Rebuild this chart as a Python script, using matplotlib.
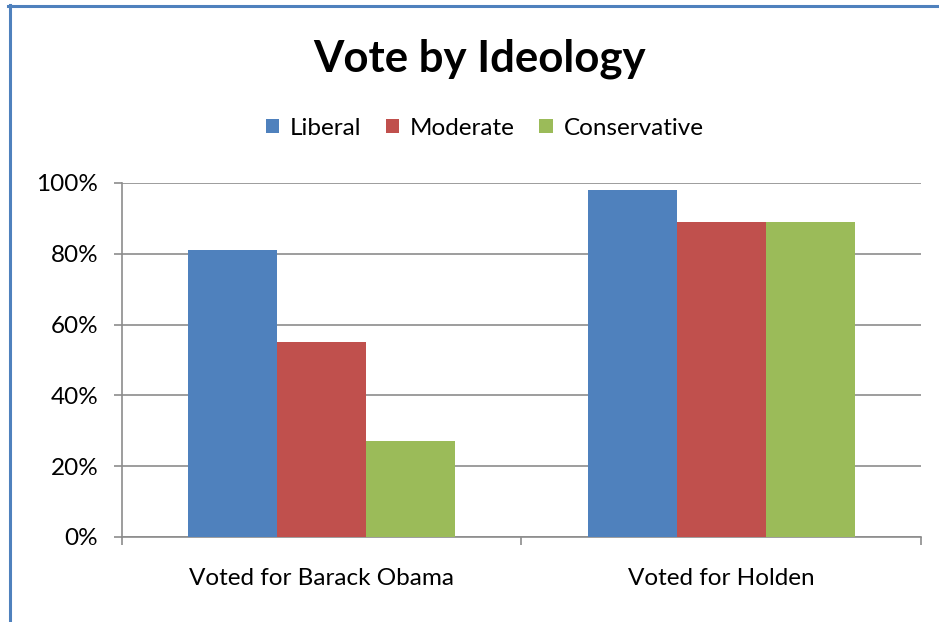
import matplotlib
matplotlib.use("Agg")
import matplotlib.pyplot as plt
from matplotlib.lines import Line2D
import numpy as np

plt.rcParams['font.family'] = ['Lato', 'DejaVu Sans']

categories = ['Voted for Barack Obama', 'Voted for Holden']
series = ['Liberal', 'Moderate', 'Conservative']
liberal = [0.81, 0.98]
moderate = [0.55, 0.89]
conservative = [0.27, 0.89]
colors = ['#4F81BD', '#C0504D', '#9BBB59']
yticks = [0, 0.2, 0.4, 0.6, 0.8, 1.0]
ytick_labels = ['0%', '20%', '40%', '60%', '80%', '100%']

fig = plt.figure(figsize=(9.39, 6.22), dpi=100)
ax = fig.add_axes([0.1299, 0.1367, 0.8509, 0.5691])

x = np.arange(len(categories))
w = 0.223
for i, (vals, name) in enumerate(zip([liberal, moderate, conservative], series)):
    ax.bar(x + (i - 1) * w, vals, w, color=colors[i], label=name, zorder=3)

ax.set_xlim(-0.5, 1.5)
ax.set_ylim(0, 1.0)
ax.set_yticks(yticks)
ax.set_yticklabels(ytick_labels, fontsize=17.5)
ax.yaxis.grid(True, color='#8c8c8c', linewidth=1.2, zorder=0)

# category boundary ticks, labels in between
ax.set_xticks([-0.5, 0.5, 1.5])
ax.set_xticklabels([])
ax.set_xticks(x, minor=True)
ax.set_xticklabels(categories, minor=True, fontsize=17.5)
ax.tick_params(axis='x', which='minor', length=0, pad=22)
ax.tick_params(axis='x', which='major', length=6, color='#8c8c8c', width=1.2)
ax.tick_params(axis='y', length=6, color='#8c8c8c', width=1.2, pad=11)

for s in ['top', 'right']:
    ax.spines[s].set_visible(False)
for s in ['left', 'bottom']:
    ax.spines[s].set_color('#8c8c8c')
    ax.spines[s].set_linewidth(1.2)

fig.text(0.511, 0.906, 'Vote by Ideology', ha='center', va='center',
         fontsize=31.5, fontweight='bold')
fig.legend(loc='center', bbox_to_anchor=(0.516, 0.794), ncol=3, frameon=False,
           fontsize=17.5, handlelength=0.55, handleheight=0.55,
           handletextpad=0.45, columnspacing=1.0)

# chart frame (left and top edges visible)
fig.add_artist(Line2D([9.5 / 939, 9.5 / 939], [0, 1 - 5 / 622],
                      color='#4F81BD', linewidth=2.2))
fig.add_artist(Line2D([8 / 939, 1], [1 - 6 / 622, 1 - 6 / 622],
                      color='#4F81BD', linewidth=2.2))

fig.savefig('out.png', dpi=100)
